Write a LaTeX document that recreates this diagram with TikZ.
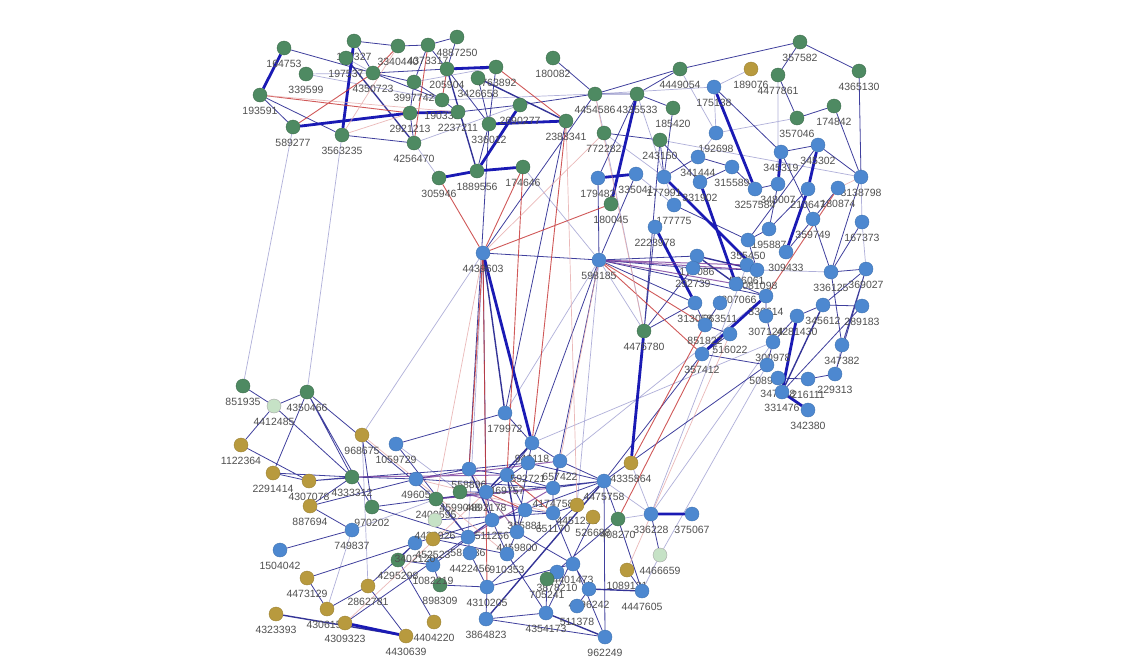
\documentclass[tikz,border=0pt]{standalone}
\usepackage{fontspec}
\setmainfont{Liberation Sans}
\definecolor{ngreen}{HTML}{4E8A62}
\definecolor{nblue}{HTML}{4D88D0}
\definecolor{ngold}{HTML}{B89A3E}
\definecolor{nlight}{HTML}{C6E2C6}
\definecolor{labc}{HTML}{505050}
\definecolor{enavy}{HTML}{1E1E8C}
\definecolor{ethick}{HTML}{1A1AB4}
\definecolor{elight}{HTML}{9C9CD0}
\definecolor{ered}{HTML}{C83C3C}
\definecolor{epink}{HTML}{E6A8A8}
\definecolor{epurp}{HTML}{7A3C9C}
\pgfdeclarelayer{edges}
\pgfsetlayers{edges,main}
\tikzset{
 nd/.style={circle,minimum size=14pt,inner sep=0pt,line width=0.4pt},
 ngr/.style={nd,fill=ngreen,draw=ngreen!80!black},
 nbl/.style={nd,fill=nblue,draw=nblue!85!black},
 ngo/.style={nd,fill=ngold,draw=ngold!85!black},
 nli/.style={nd,fill=nlight,draw=gray!70},
 lab/.style={font=\fontsize{10.5}{11}\selectfont,text=labc,inner sep=0pt},
 edN/.style={draw=enavy,line width=0.8pt,opacity=0.85},
 edM/.style={draw=enavy,line width=1.4pt,opacity=0.9},
 edT/.style={draw=ethick,line width=2.8pt},
 edL/.style={draw=elight,line width=0.7pt,opacity=0.8},
 edR/.style={draw=ered,line width=0.9pt,opacity=0.85},
 edP/.style={draw=epink,line width=0.7pt,opacity=0.8},
 edU/.style={draw=epurp,line width=1.0pt,opacity=0.8},
}
\newcommand\N[5]{\node[#2] (#1) at (#3pt,-#4pt) {};\node[lab] (#1-l) at (#3pt,-#4pt-15.5pt) {#5};}
\begin{document}
\begin{tikzpicture}
\begin{pgfonlayer}{edges}
\fill[white] (0pt,0pt) rectangle (1141pt,-667pt);
\end{pgfonlayer}
\useasboundingbox (0pt,0pt) rectangle (1141pt,-667pt);
% ---- top-left green cluster
\N{a1}{ngr}{284}{48}{164753}
\N{a2}{ngr}{306}{74}{339599}
\N{a3}{ngr}{260}{95}{193591}
\N{a4}{ngr}{293}{127}{589277}
\N{a5}{ngr}{342}{135}{3563235}
\N{a6}{ngr}{354}{41}{157327}
\N{a7}{ngr}{346}{58}{197537}
\N{a8}{ngr}{373}{73}{4350723}
\N{a9}{ngr}{398}{46}{3340440}
\N{a10}{ngr}{428}{45}{4373317}
\N{a11}{ngr}{457}{37}{4887250}
\N{a12}{ngr}{447}{69}{205904}
\N{a13}{ngr}{496}{67}{4763892}
\N{a14}{ngr}{478}{78}{3426658}
\N{a15}{ngr}{414}{82}{3997742}
\N{a16}{ngr}{442}{100}{190338}
\N{a17}{ngr}{410}{113}{2921213}
\N{a18}{ngr}{458}{112}{2237211}
\N{a19}{ngr}{414}{143}{4256470}
\N{a20}{ngr}{439}{178}{305946}
\N{a21}{ngr}{477}{171}{1889556}
\N{a22}{ngr}{523}{167}{174646}
\N{a23}{ngr}{489}{124}{336012}
\N{a24}{ngr}{520}{105}{2690277}
\N{a25}{ngr}{566}{121}{2383341}
\N{a26}{ngr}{553}{58}{180082}
\N{a27}{ngr}{595}{94}{4454586}
\N{a28}{ngr}{637}{94}{4335533}
\N{a29}{ngr}{604}{133}{772282}
\N{a30}{ngr}{611}{204}{180045}
% ---- top-right
\N{r1}{ngr}{680}{69}{4449054}
\N{r2}{ngo}{751}{69}{189076}
\N{r3}{ngr}{800}{42}{357582}
\N{r4}{ngr}{778}{75}{4477861}
\N{r5}{ngr}{859}{71}{4365130}
\N{r6}{nbl}{714}{87}{175138}
\N{r7}{ngr}{673}{108}{185420}
\N{r8}{ngr}{834}{106}{174842}
\N{r9}{ngr}{797}{118}{357046}
\N{r10}{ngr}{660}{140}{243150}
\N{r11}{nbl}{716}{133}{192698}
\N{r12}{nbl}{781}{152}{345319}
\N{r13}{nbl}{818}{145}{345302}
\N{r14}{nbl}{861}{177}{3138798}
\N{r15}{nbl}{698}{157}{341444}
\N{r16}{nbl}{732}{167}{315589}
\N{r17}{nbl}{755}{189}{3257584}
\N{r18}{nbl}{778}{184}{348007}
\N{r19}{nbl}{808}{189}{210647}
\N{r20}{nbl}{838}{188}{180874}
\N{r21}{nbl}{664}{177}{177991}
\N{r22}{nbl}{700}{182}{331902}
\N{r23}{nbl}{674}{205}{177775}
\N{r24}{nbl}{598}{178}{179482}
\N{r25}{nbl}{636}{174}{335041}
\N{r26}{nbl}{655}{227}{2223978}
\N{r27}{nbl}{599}{260}{598185}
\N{r28}{nbl}{862}{222}{167373}
\N{r29}{nbl}{813}{219}{359749}
\N{r30}{nbl}{769}{229}{195887}
\N{r31}{nbl}{748}{240}{355450}
\N{r32}{nbl}{786}{252}{309433}
\N{r33}{nbl}{747}{265}{566061}
\N{r34}{nbl}{757}{270}{3081098}
\N{r35}{nbl}{831}{272}{336125}
\N{r36}{nbl}{866}{269}{369027}
\N{r37}{nbl}{697}{256}{174086}
\N{r38}{nbl}{693}{268}{292739}
\N{r39}{nbl}{736}{284}{4207066}
\N{r40}{nbl}{766}{296}{336614}
\N{r41}{nbl}{695}{303}{313058}
\N{r42}{nbl}{720}{303}{263511}
\N{r43}{nbl}{705}{325}{851822}
\N{r44}{nbl}{730}{334}{516022}
\N{r45}{nbl}{766}{316}{307124}
\N{r46}{nbl}{797}{316}{4281430}
\N{r47}{nbl}{823}{305}{345612}
\N{r48}{nbl}{862}{306}{289183}
\N{r49}{nbl}{842}{345}{347382}
\N{r50}{nbl}{773}{342}{300978}
\N{r51}{nbl}{702}{354}{357412}
\N{r52}{nbl}{767}{365}{508968}
\N{r53}{nbl}{835}{374}{229313}
\N{r54}{nbl}{808}{379}{216111}
\N{r55}{nbl}{778}{378}{347648}
\N{r56}{nbl}{782}{392}{331476}
\N{r57}{nbl}{808}{410}{342380}
\N{r58}{ngr}{644}{331}{4476780}
\N{m1}{nbl}{483}{253}{4439603}
% ---- bottom-left
\N{s1}{ngr}{243}{386}{851935}
\N{s2}{ngr}{307}{392}{4350466}
\N{s3}{nli}{274}{406}{4412485}
\N{s4}{ngo}{241}{445}{1122364}
\N{s5}{ngo}{362}{435}{968675}
\N{s6}{nbl}{396}{444}{1059729}
\N{s7}{ngo}{273}{473}{2291414}
\N{s8}{ngo}{309}{481}{4307078}
\N{s9}{ngr}{352}{477}{4333312}
\N{s10}{ngo}{310}{506}{887694}
\N{s11}{ngr}{372}{507}{970202}
\N{s12}{nbl}{352}{530}{749837}
\N{s13}{nbl}{280}{550}{1504042}
\N{s14}{ngo}{307}{578}{4473129}
\N{s15}{ngo}{368}{586}{2862781}
\N{s16}{ngo}{276}{614}{4323393}
\N{s17}{ngo}{327}{609}{4306157}
\N{s18}{ngo}{345}{623}{4309323}
\N{s19}{ngo}{406}{636}{4430639}
\N{s20}{ngo}{434}{622}{4404220}
\N{s21}{ngr}{398}{560}{4295298}
\N{s22}{ngr}{440}{585}{898309}
\N{s23}{nbl}{433}{565}{1082219}
\N{s24}{nbl}{415}{543}{3402120}
% ---- bottom centre
\N{c1}{nbl}{505}{413}{179972}
\N{c2}{nbl}{532}{443}{949118}
\N{c3}{nbl}{560}{461}{657422}
\N{c4}{nbl}{416}{479}{49605}
\N{c5}{nbl}{469}{469}{558896}
\N{c6}{nbl}{507}{475}{469757}
\N{c39}{nbl}{528}{463}{592721}
\N{c7}{nbl}{553}{488}{4174758}
\N{c8}{nbl}{486}{492}{4892178}
\N{c9}{ngr}{460}{492}{4599048}
\N{c10}{ngr}{436}{499}{2409595}
\N{c11}{nli}{435}{520}{4430926}
\N{c12}{ngo}{433}{539}{452523}
\N{c13}{nbl}{525}{510}{365881}
\N{c14}{nbl}{553}{513}{651170}
\N{c15}{nbl}{492}{520}{511256}
\N{c16}{nbl}{517}{532}{4459800}
\N{c17}{nbl}{468}{537}{581636}
\N{c18}{nbl}{470}{553}{4422456}
\N{c19}{nbl}{507}{554}{910353}
\N{c20}{nbl}{604}{481}{4475758}
\N{c21}{ngo}{631}{463}{4335864}
\N{c22}{ngo}{577}{505}{4451251}
\N{c23}{ngo}{593}{517}{526688}
\N{c24}{ngr}{618}{519}{408270}
\N{c25}{nbl}{651}{514}{336228}
\N{c26}{nbl}{692}{514}{375067}
\N{c27}{nli}{660}{555}{4466659}
\N{c28}{ngo}{627}{570}{1089121}
\N{c29}{nbl}{642}{591}{4447605}
\N{c30}{nbl}{573}{564}{4401473}
\N{c31}{nbl}{557}{572}{3878210}
\N{c32}{ngr}{547}{579}{705241}
\N{c33}{nbl}{589}{589}{4296242}
\N{c34}{nbl}{577}{606}{511378}
\N{c35}{nbl}{487}{587}{4310205}
\N{c36}{nbl}{486}{619}{3864823}
\N{c37}{nbl}{546}{613}{4354173}
\N{c38}{nbl}{605}{637}{962249}
\begin{pgfonlayer}{edges}
% light
\draw[edL] (a4)--(s1) (a5)--(s2) (a2)--(a8) (a2)--(a16) (a7)--(a8) (a15)--(a13) (a16)--(a27) (a19)--(a20) (a19)--(a24) (a27)--(a29)
 (r6)--(r11) (r6)--(a27) (r1)--(r11) (r2)--(r6) (r4)--(r18) (r11)--(r9) (r11)--(r15) (r10)--(r14) (r14)--(r28) (r28)--(r36) (r49)--(r53)
 (r25)--(r23) (m1)--(s5) (r27)--(c1) (r27)--(r58) (r27)--(c22) (c2)--(r50) (c3)--(r40) (c25)--(c20) (c25)--(c24) (c25)--(r50) (c27)--(r52) (c27)--(c29)
 (s12)--(s17) (s12)--(c10) (s5)--(s15) (a29)--(r58) (m1)--(c17) (a28)--(r23) (a22)--(r27) (a29)--(r21) (s6)--(c9) (c21)--(c25) (r33)--(c25) (r34)--(r35);
% navy thin
\draw[edN] (a1)--(a8) (a3)--(a4) (a3)--(a5) (a5)--(a19) (a6)--(a9) (a9)--(a10) (a8)--(a15) (a8)--(a12) (a8)--(a16) (a10)--(a15) (a10)--(a11) (a10)--(a12)
 (a15)--(a16) (a15)--(a17) (a11)--(a12) (a12)--(a23) (a14)--(a23) (a13)--(a23) (a16)--(a18) (a18)--(a24) (a17)--(a19) (a21)--(a23) (a24)--(a27)
 (a26)--(a27) (a27)--(a28) (a27)--(r1) (a28)--(r1) (a28)--(r7) (a28)--(r24) (a29)--(r10) (a25)--(c1) (a27)--(m1) (a8)--(a6)
 (r1)--(r3) (r3)--(r4) (r3)--(r5) (r4)--(r9) (r5)--(r14) (r8)--(r9) (r8)--(r14) (r6)--(r12) (r7)--(r21) (r10)--(r21) (r10)--(r22) (r15)--(r21)
 (r15)--(r16) (r12)--(r13) (r16)--(r17) (r16)--(r22) (r17)--(r18) (r13)--(r14) (r14)--(r35) (r18)--(r30) (r29)--(r32) (r29)--(r35) (r28)--(r35)
 (r35)--(r36) (r35)--(r49) (r36)--(r49) (r36)--(r47) (r48)--(r47) (r47)--(r46) (r53)--(r54) (r54)--(r55) (r52)--(r50) (r50)--(r46) (r50)--(r45)
 (r45)--(r40) (r39)--(r40) (r34)--(r31) (r31)--(r30) (r33)--(r34) (r38)--(r34) (r41)--(r43) (r42)--(r43) (r43)--(r44) (r44)--(r51) (r23)--(r31)
 (r26)--(r58) (r24)--(r27) (r25)--(r27) (r27)--(m1) (r27)--(r40) (r27)--(r41) (r27)--(r37) (r27)--(r38) (r58)--(r41) (r58)--(r38) (r10)--(r58)
 (r13)--(r31) (r12)--(r29) (r20)--(r29) (r19)--(r30) (r48)--(r56) (r36)--(r53) (r51)--(r52)
 (m1)--(c8) (a23)--(c5) (r27)--(c2) (r27)--(c7) (c20)--(r51) (c20)--(r52)
 (s1)--(s3) (s3)--(s2) (s3)--(s4) (s3)--(s9) (s2)--(s7) (s2)--(s11) (s2)--(s9) (s2)--(c10) (s4)--(s8) (s7)--(s8) (s7)--(s9) (s8)--(s9) (s10)--(s9)
 (s10)--(c4) (s10)--(s12) (s5)--(s11) (s6)--(c1) (s6)--(c17) (s9)--(c4) (s12)--(s13) (s14)--(s17) (s14)--(s24) (s17)--(s15) (s15)--(s19)
 (s15)--(s24) (s18)--(c15) (s20)--(s21) (s21)--(s24) (s21)--(s23) (s22)--(c35) (s22)--(s23) (s11)--(c17) (s11)--(c8) (s8)--(c5)
 (c35)--(c36) (c35)--(c30) (c36)--(c37) (c36)--(c38) (c37)--(c32) (c34)--(c33) (c30)--(c33) (c28)--(c29) (c25)--(c27) (c24)--(c29) (c24)--(c20) (c38)--(c20)
 (c1)--(c2) (c2)--(c3) (c2)--(c6) (c3)--(c20) (c3)--(c7) (c5)--(c6) (c5)--(c4) (c6)--(c7) (c6)--(c13) (c7)--(c14) (c7)--(c20) (c8)--(c15) (c8)--(c16)
 (c9)--(c8) (c10)--(c17) (c13)--(c16) (c13)--(c14) (c14)--(c22) (c15)--(c19) (c16)--(c19) (c17)--(c18) (c18)--(c35) (c19)--(c37) (c20)--(c13)
 (c4)--(c7) (c10)--(c20) (c11)--(c14) (c12)--(c16) (c12)--(c19) (c24)--(c32) (c23)--(c37) (c14)--(c38) (c16)--(c30) (c20)--(c35) (s24)--(c13) (s23)--(c15)
 (c39)--(c2) (c39)--(c20) (c39)--(c8) (c39)--(c16) (c5)--(c39);
% medium
\draw[edM] (a7)--(a19) (a12)--(a21) (a14)--(a25) (r46)--(r56) (r47)--(r56) (r37)--(r39) (r37)--(r34) (c37)--(c38) (c33)--(c29) (s16)--(s19)
 (c36)--(c20) (m1)--(c1) (c5)--(c15) (c6)--(c16) (c8)--(c2);
% thick
\draw[edT] (a1)--(a3) (a4)--(a17) (a17)--(a18) (a5)--(a6) (a12)--(a13) (a23)--(a25) (a20)--(a21) (a21)--(a22) (a21)--(a24) (r24)--(r25) (a28)--(a30)
 (r6)--(r17) (r12)--(r18) (r13)--(r19) (r21)--(r34) (r26)--(r41) (r19)--(r32) (r40)--(r51) (r46)--(r56) (r56)--(r57) (r58)--(c21) (c25)--(c26)
 (s18)--(s19) (m1)--(c2) (r22)--(r39);
% red
\draw[edR] (a3)--(a17) (a4)--(a8) (a9)--(a8) (a10)--(a19) (a13)--(a25) (a20)--(m1) (a22)--(m1) (m1)--(a30) (r27)--(r51) (r27)--(r43) (m1)--(c35)
 (m1)--(c5) (a22)--(c6) (a25)--(c2) (r20)--(r40) (c21)--(r43) (c24)--(r51) (c6)--(c14) (c8)--(c13) (a12)--(a16);
% pink
\draw[edP] (a5)--(a9) (a5)--(a17) (a3)--(a18) (a29)--(m1) (a27)--(r58) (r14)--(r20) (s5)--(c19) (c28)--(r44) (r27)--(c3) (a25)--(c22) (m1)--(c10) (c5)--(c16) (c4)--(c14) (s18)--(c8);
% purple
\draw[edU] (r27)--(r34) (r27)--(r33) (r27)--(r39) (c4)--(c3) (c10)--(c7) (c9)--(c13) (c17)--(c7) (s9)--(c6);
\end{pgfonlayer}
\end{tikzpicture}
\end{document}
